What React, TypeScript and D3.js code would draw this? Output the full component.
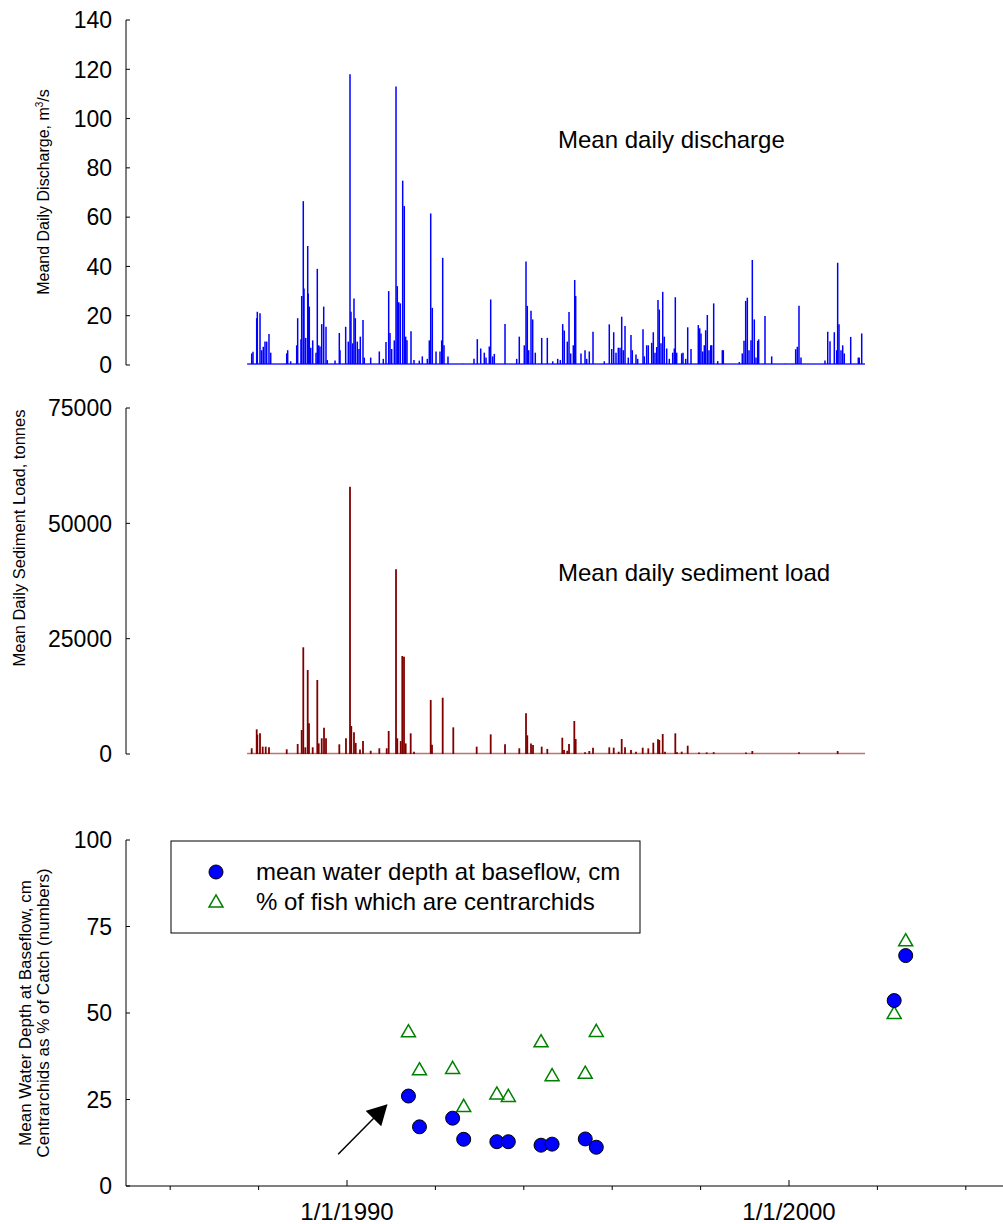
import React from "react";
import * as d3 from "d3";

// daily record of the gauge: first and last day, as decimal years
const recordSpan = [1987.74, 2001.72];
const dischargeBaseflow = 0.4;
const sedimentBaseLoad = 120;

// storm peaks of the mean daily discharge, [decimal year, m3/s]
const dischargePeaks: [number, number][] = [
  [1987.844, 4.7], [1987.873, 5.4], [1987.957, 19], [1987.971, 21.6], [1988.032, 21], [1988.07, 6], [1988.106, 7.4],
  [1988.145, 9.5], [1988.183, 9.5], [1988.235, 12.6], [1988.274, 5],
  [1988.636, 4.7], [1988.658, 6], [1988.726, 1.5], [1988.862, 8], [1988.884, 19], [1988.959, 10.5], [1988.975, 28],
  [1989.011, 66.5], [1989.027, 31], [1989.066, 11], [1989.111, 48.3], [1989.124, 29], [1989.147, 23.7], [1989.179, 7],
  [1989.224, 10], [1989.299, 5], [1989.328, 39], [1989.36, 8], [1989.389, 7.5], [1989.428, 16.6], [1989.473, 23.7],
  [1989.525, 15.5], [1989.554, 2],
  [1989.729, 1.8], [1989.826, 13], [1989.842, 6], [1989.97, 15.5], [1990.029, 9.5], [1990.068, 118], [1990.09, 21.6],
  [1990.129, 8.8], [1990.158, 27], [1990.188, 19], [1990.233, 9.5], [1990.271, 6.5], [1990.301, 11.5], [1990.362, 18.3],
  [1990.391, 3], [1990.536, 3],
  [1990.731, 5.5], [1990.821, 2.5], [1990.882, 9.3], [1990.943, 30], [1990.973, 13], [1991.011, 6.5], [1991.07, 10],
  [1991.109, 113], [1991.138, 32], [1991.17, 25.5], [1991.206, 25], [1991.26, 74.8], [1991.296, 64.5], [1991.328, 11.5],
  [1991.357, 10], [1991.448, 13.7], [1991.516, 2],
  [1991.636, 1.8], [1991.704, 3.5], [1991.817, 2.5], [1991.862, 10], [1991.894, 61.5], [1991.93, 23.2], [1992.014, 5.5],
  [1992.104, 5.5], [1992.142, 10], [1992.165, 43.5], [1992.195, 8], [1992.285, 3.5], [1992.617, 0.5],
  [1992.873, 2.5], [1992.948, 10.5], [1993.025, 6.7], [1993.106, 5], [1993.145, 3], [1993.219, 7.5], [1993.251, 26.6],
  [1993.296, 3.5], [1993.333, 4.5], [1993.575, 16.6],
  [1993.839, 2.5], [1993.898, 11.5], [1994.011, 8], [1994.05, 42], [1994.079, 24], [1994.111, 6], [1994.163, 22],
  [1994.201, 18.5], [1994.26, 5], [1994.405, 11], [1994.532, 11], [1994.654, 1.5],
  [1994.767, 2.5], [1994.826, 2], [1994.88, 16.6], [1994.916, 14], [1994.984, 9.5], [1995.023, 21.5], [1995.061, 4.7],
  [1995.12, 8], [1995.152, 34.5], [1995.174, 28], [1995.294, 4.7], [1995.385, 6], [1995.423, 2.5], [1995.482, 5.5],
  [1995.566, 13.5],
  [1995.821, 1.5], [1995.934, 16.5], [1995.989, 6.5], [1996.034, 13.3], [1996.086, 5], [1996.138, 7], [1996.176, 7],
  [1996.215, 19.6], [1996.251, 6], [1996.29, 15.8], [1996.364, 3], [1996.425, 12.2], [1996.455, 6], [1996.538, 4.3],
  [1996.577, 2.5],
  [1996.697, 14.5], [1996.726, 3.5], [1996.78, 8], [1996.817, 8], [1996.894, 9], [1996.93, 13.3], [1996.968, 5],
  [1997.007, 7.3], [1997.036, 26.4], [1997.066, 22.5], [1997.104, 8.8], [1997.143, 29.7], [1997.179, 11.5],
  [1997.233, 6.7], [1997.292, 2.5], [1997.369, 5], [1997.405, 6.7], [1997.428, 27.5], [1997.459, 5], [1997.572, 4.7],
  [1997.602, 5], [1997.663, 2.5], [1997.708, 15.3], [1997.783, 6.5],
  [1997.948, 16.2], [1997.98, 14.9], [1998.009, 12.8], [1998.048, 5.5], [1998.084, 8], [1998.115, 14.1], [1998.152, 20.3],
  [1998.19, 6], [1998.229, 8], [1998.251, 8], [1998.296, 25], [1998.387, 1.6], [1998.491, 6], [1998.514, 6],
  [1998.876, 1.2], [1998.943, 4.7], [1998.982, 9.8], [1999.02, 26], [1999.057, 27.3], [1999.095, 6], [1999.14, 10],
  [1999.17, 42.6], [1999.215, 18.5], [1999.253, 3], [1999.292, 9.8], [1999.314, 10.4], [1999.457, 19.9], [1999.608, 3.5],
  [1999.91, 0.5], [2000.151, 6.4], [2000.188, 7.4], [2000.226, 24], [2000.271, 3],
  [2000.814, 1.8], [2000.876, 13.5], [2000.928, 9.6], [2001.025, 13.3], [2001.079, 6], [2001.101, 41.5], [2001.131, 16.5],
  [2001.176, 6], [2001.215, 8], [2001.251, 4.7], [2001.396, 11.4], [2001.568, 3], [2001.59, 3], [2001.645, 12.8],
];

// storm peaks of the mean daily sediment load, [decimal year, tonnes]
const sedimentPeaks: [number, number][] = [
  [1987.844, 1240], [1987.957, 5350], [1987.971, 4200], [1988.032, 4480], [1988.093, 1590], [1988.161, 1590],
  [1988.235, 1450], [1988.636, 1020], [1988.884, 2170], [1988.975, 5200], [1989.011, 23130], [1989.057, 1450],
  [1989.111, 18200], [1989.14, 6650], [1989.224, 1450], [1989.328, 16040], [1989.36, 2300], [1989.428, 3400],
  [1989.48, 5700], [1989.525, 3400], [1989.826, 2100], [1989.977, 3400], [1990.068, 57940], [1990.097, 6070],
  [1990.158, 4700], [1990.197, 2400], [1990.294, 1000], [1990.362, 2820], [1990.536, 700], [1990.731, 1240],
  [1990.898, 1240], [1990.943, 4990], [1991.109, 40030], [1991.138, 3400], [1991.215, 2800], [1991.251, 21240],
  [1991.29, 21100], [1991.328, 2300], [1991.441, 4480], [1991.516, 500], [1991.894, 11700], [1991.923, 2000],
  [1992.165, 12200], [1992.405, 5780], [1992.934, 1590], [1993.251, 4260], [1993.575, 2100], [1993.898, 1240],
  [1994.05, 8820], [1994.079, 4050], [1994.163, 2300], [1994.208, 1950], [1994.405, 1590], [1994.532, 1100],
  [1994.871, 3530], [1994.91, 870], [1994.984, 700], [1995.023, 2170], [1995.143, 7150], [1995.174, 3250],
  [1995.385, 400], [1995.482, 650], [1995.566, 1370], [1995.934, 1440], [1996.034, 1370], [1996.147, 500],
  [1996.215, 3250], [1996.29, 1440], [1996.425, 870], [1996.538, 500], [1996.69, 1370], [1996.817, 1220],
  [1996.93, 2450], [1997.036, 3180], [1997.066, 3030], [1997.143, 4340], [1997.195, 500], [1997.428, 4480],
  [1997.466, 400], [1997.572, 500], [1997.708, 1800], [1997.964, 300], [1998.138, 350], [1998.296, 400],
  [1999.027, 350], [1999.17, 650], [2000.226, 400], [2001.101, 650],
];

// fish survey samples
const sampleYears = [1991.39, 1991.64, 1992.39, 1992.64, 1993.39, 1993.65, 1994.39, 1994.64, 1995.39, 1995.64, 2002.38, 2002.64];
const waterDepth = [26.0, 17.1, 19.6, 13.5, 12.8, 12.8, 11.8, 12.1, 13.6, 11.2, 53.6, 66.6];
const centrarchidPct = [44.3, 33.3, 33.7, 22.7, 26.3, 25.6, 41.4, 31.6, 32.3, 44.4, 49.6, 70.6];

const dischargeTicks = [0, 20, 40, 60, 80, 100, 120, 140];
const sedimentTicks = [0, 25000, 50000, 75000];
const percentTicks = [0, 25, 50, 75, 100];
const majorYearTicks = [1990, 2000];
const majorYearLabels = ["1/1/1990", "1/1/2000"];
const minorYearTicks = [1986, 1988, 1992, 1994, 1996, 1998, 2002, 2004];
const arrowFrom = [1989.8, 9.2];
const arrowTo = [1990.9, 23.4];

const FONT = "Liberation Sans, Arial, Helvetica, sans-serif";

const YAxis = ({ scale, ticks, x }: { scale: d3.ScaleLinear<number, number>; ticks: number[]; x: number }) => {
  const [r0, r1] = scale.range();
  return (
    <g>
      <line x1={x} x2={x} y1={r0} y2={r1} stroke="#000" strokeWidth={1} />
      {ticks.map((t) => (
        <g key={t}>
          <line x1={x} x2={x + 4} y1={scale(t)} y2={scale(t)} stroke="#000" strokeWidth={1} />
          <text x={x - 14} y={scale(t)} dy="0.36em" textAnchor="end" fontSize={23} fontFamily={FONT} fill="#000">
            {t}
          </text>
        </g>
      ))}
    </g>
  );
};

export default function App() {
  const x = d3.scaleLinear().domain([1985, 2005]).range([126, 1010]);
  const yQ = d3.scaleLinear().domain([0, 140]).range([365, 20]);
  const yS = d3.scaleLinear().domain([0, 75000]).range([754, 408]);
  const yB = d3.scaleLinear().domain([0, 100]).range([1186, 840]);
  const axisX = x(1985);

  const triangle = d3.symbol(d3.symbolTriangle, 85)();

  return (
    <svg width={1003} height={1224} style={{ position: "absolute", left: 0, top: 0, background: "#fff" }}>
      <defs>
        <marker id="arrowHead" viewBox="0 0 20 22" refX="19" refY="11" markerWidth="20" markerHeight="22" orient="auto" markerUnits="userSpaceOnUse">
          <path d="M0,0 L20,11 L0,22 z" fill="#000" />
        </marker>
      </defs>

      {/* discharge */}
      <line x1={x(recordSpan[0])} x2={x(recordSpan[1])} y1={yQ(dischargeBaseflow)} y2={yQ(dischargeBaseflow)} stroke="#0000ff" strokeWidth={1.4} strokeOpacity={0.85} />
      {dischargePeaks.map(([t, v], i) => (
        <line key={i} x1={x(t)} x2={x(t)} y1={yQ(dischargeBaseflow)} y2={yQ(v)} stroke="#0000ff" strokeWidth={1.5} />
      ))}
      <YAxis scale={yQ} ticks={dischargeTicks} x={axisX} />
      <text x={558} y={148} fontSize={24} fontFamily={FONT}>Mean daily discharge</text>
      <text transform="translate(49,192) rotate(-90)" textAnchor="middle" fontSize={16} fontFamily={FONT}>
        Meand Daily Discharge, m<tspan dy={-6} fontSize={10}>3</tspan><tspan dy={6}>/s</tspan>
      </text>

      {/* sediment */}
      <line x1={x(recordSpan[0])} x2={x(recordSpan[1])} y1={yS(sedimentBaseLoad)} y2={yS(sedimentBaseLoad)} stroke="#8b0000" strokeWidth={1.6} strokeOpacity={0.55} />
      {sedimentPeaks.map(([t, v], i) => (
        <line key={i} x1={x(t)} x2={x(t)} y1={yS(0)} y2={yS(v)} stroke="#800000" strokeWidth={1.8} />
      ))}
      <YAxis scale={yS} ticks={sedimentTicks} x={axisX} />
      <text x={558} y={581} fontSize={24} fontFamily={FONT}>Mean daily sediment load</text>
      <text transform="translate(25,538) rotate(-90)" textAnchor="middle" fontSize={16.5} fontFamily={FONT}>
        Mean Daily Sediment Load, tonnes
      </text>

      {/* fish samples */}
      <YAxis scale={yB} ticks={percentTicks} x={axisX} />
      <line x1={axisX} x2={x(2005)} y1={yB(0)} y2={yB(0)} stroke="#000" strokeWidth={1} />
      {minorYearTicks.map((t) => (
        <line key={t} x1={x(t)} x2={x(t)} y1={yB(0)} y2={yB(0) + 4} stroke="#000" strokeWidth={1} />
      ))}
      {majorYearTicks.map((t, i) => (
        <g key={t}>
          <line x1={x(t)} x2={x(t)} y1={yB(0)} y2={yB(0) - 6} stroke="#000" strokeWidth={1} />
          <text x={x(t)} y={1220} textAnchor="middle" fontSize={24} fontFamily={FONT}>{majorYearLabels[i]}</text>
        </g>
      ))}
      <text transform="translate(31,1013) rotate(-90)" textAnchor="middle" fontSize={17} fontFamily={FONT}>
        Mean Water Depth at Baseflow, cm
      </text>
      <text transform="translate(49,1013) rotate(-90)" textAnchor="middle" fontSize={17} fontFamily={FONT}>
        Centrarchids as % of Catch (numbers)
      </text>

      {sampleYears.map((t, i) => (
        <path key={"tri" + i} d={triangle!} transform={`translate(${x(t)},${yB(centrarchidPct[i])})`} fill="none" stroke="#008000" strokeWidth={1.5} />
      ))}
      {sampleYears.map((t, i) => (
        <circle key={"dot" + i} cx={x(t)} cy={yB(waterDepth[i])} r={7} fill="#0000ff" stroke="#000" strokeWidth={1} />
      ))}

      <line x1={x(arrowFrom[0])} y1={yB(arrowFrom[1])} x2={x(arrowTo[0])} y2={yB(arrowTo[1])} stroke="#000" strokeWidth={1.5} markerEnd="url(#arrowHead)" />

      {/* legend */}
      <rect x={171} y={841} width={469} height={92} fill="#fff" stroke="#000" strokeWidth={1} />
      <circle cx={216} cy={872} r={7} fill="#0000ff" stroke="#000" strokeWidth={1} />
      <text x={256} y={880} fontSize={24} fontFamily={FONT}>mean water depth at baseflow, cm</text>
      <path d={triangle!} transform="translate(216,903)" fill="none" stroke="#008000" strokeWidth={1.5} />
      <text x={256} y={910} fontSize={24} fontFamily={FONT}>% of fish which are centrarchids</text>
    </svg>
  );
}
